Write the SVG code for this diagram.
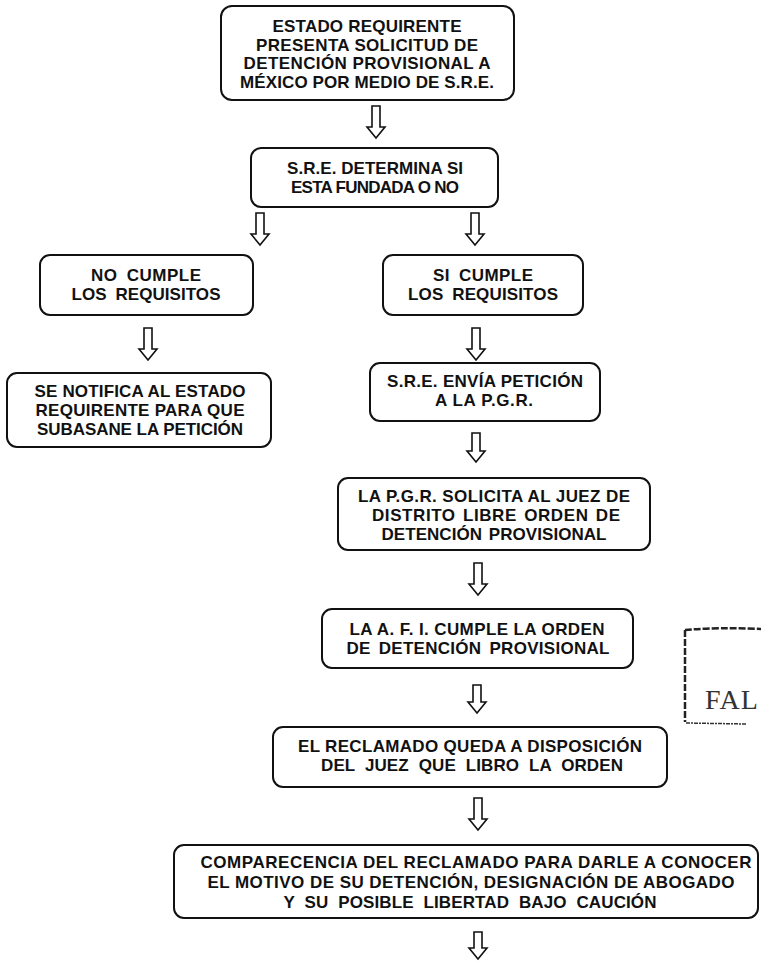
<svg xmlns="http://www.w3.org/2000/svg" width="761" height="961" viewBox="0 0 761 961">
<style>
.box{fill:#fff;stroke:#111;stroke-width:2}
.t{font-family:"Liberation Sans",Arial,sans-serif;font-size:17px;font-weight:bold;fill:#111;text-anchor:middle}
.arr{fill:#fff;stroke:#111;stroke-width:1.6;stroke-linejoin:miter}
.stamp{fill:none;stroke:#222;stroke-width:2.5;stroke-dasharray:7 2}
</style>
<rect width="761" height="961" fill="#fff"/>
<g id="connectors">
<path class="arr" d="M372,106 H380 V127 H385 L376,138 L367,127 H372 Z"/>
<path class="arr" d="M256,213 H264 V234 H269 L260,245 L251,234 H256 Z"/>
<path class="arr" d="M471,213 H479 V234 H484 L475,245 L466,234 H471 Z"/>
<path class="arr" d="M144,328 H152 V349 H157 L148,360 L139,349 H144 Z"/>
<path class="arr" d="M472,328 H480 V349 H485 L476,360 L467,349 H472 Z"/>
<path class="arr" d="M472,433 H480 V451 H485 L476,462 L467,451 H472 Z"/>
<path class="arr" d="M474,563 H482 V584 H487 L478,595 L469,584 H474 Z"/>
<path class="arr" d="M473,685 H481 V702 H486 L477,713 L468,702 H473 Z"/>
<path class="arr" d="M474,798 H482 V819 H487 L478,830 L469,819 H474 Z"/>
<path class="arr" d="M474,932 H482 V948 H487 L478,959 L469,948 H474 Z"/>
</g>
<g id="n1">
<rect class="box" x="221" y="6" width="293" height="94" rx="11"/>
<text class="t" x="367" y="32" textLength="189" lengthAdjust="spacing">ESTADO REQUIRENTE</text>
<text class="t" x="367" y="50.5" textLength="222" lengthAdjust="spacing">PRESENTA SOLICITUD DE</text>
<text class="t" x="367" y="69" textLength="247" lengthAdjust="spacing">DETENCIÓN PROVISIONAL A</text>
<text class="t" x="367" y="87.5" textLength="254" lengthAdjust="spacing">MÉXICO POR MEDIO DE S.R.E.</text>
</g>
<g id="n2">
<rect class="box" x="251" y="148" width="247" height="59" rx="10"/>
<text class="t" x="375" y="173.5" textLength="176" lengthAdjust="spacing">S.R.E. DETERMINA SI</text>
<text class="t" x="375" y="192.5" textLength="168" lengthAdjust="spacing">ESTA FUNDADA O NO</text>
</g>
<g id="n3">
<rect class="box" x="40" y="255" width="213" height="60" rx="10"/>
<text class="t" x="146" y="280.5" textLength="110" lengthAdjust="spacing" word-spacing="4">NO CUMPLE</text>
<text class="t" x="146" y="299.5" textLength="149" lengthAdjust="spacing" word-spacing="4">LOS REQUISITOS</text>
</g>
<g id="n4">
<rect class="box" x="383" y="255" width="200" height="60" rx="10"/>
<text class="t" x="483" y="280.5" textLength="100" lengthAdjust="spacing" word-spacing="4">SI CUMPLE</text>
<text class="t" x="483" y="299.5" textLength="150" lengthAdjust="spacing" word-spacing="4">LOS REQUISITOS</text>
</g>
<g id="n5">
<rect class="box" x="7" y="373" width="264" height="74" rx="10"/>
<text class="t" x="140" y="397" textLength="211" lengthAdjust="spacing">SE NOTIFICA AL ESTADO</text>
<text class="t" x="140" y="416" textLength="209" lengthAdjust="spacing">REQUIRENTE PARA QUE</text>
<text class="t" x="140" y="435" textLength="206" lengthAdjust="spacing">SUBASANE LA PETICIÓN</text>
</g>
<g id="n6">
<rect class="box" x="370" y="363" width="230" height="58" rx="10"/>
<text class="t" x="485" y="387" textLength="196" lengthAdjust="spacing">S.R.E. ENVÍA PETICIÓN</text>
<text class="t" x="484" y="406" textLength="98" lengthAdjust="spacing">A LA P.G.R.</text>
</g>
<g id="n7">
<rect class="box" x="338" y="478" width="312" height="72" rx="10"/>
<text class="t" x="494" y="501.5" textLength="272" lengthAdjust="spacing">LA P.G.R. SOLICITA AL JUEZ DE</text>
<text class="t" x="496" y="520.5" textLength="248" lengthAdjust="spacing" word-spacing="2">DISTRITO LIBRE ORDEN DE</text>
<text class="t" x="494" y="539.5" textLength="225" lengthAdjust="spacing" word-spacing="2">DETENCIÓN PROVISIONAL</text>
</g>
<g id="n8">
<rect class="box" x="322" y="609" width="311" height="59" rx="10"/>
<text class="t" x="477" y="634.5" textLength="255" lengthAdjust="spacing">LA A. F. I. CUMPLE LA ORDEN</text>
<text class="t" x="478" y="653.5" textLength="263" lengthAdjust="spacing" word-spacing="3">DE DETENCIÓN PROVISIONAL</text>
</g>
<g id="n9">
<rect class="box" x="273" y="727" width="394" height="60" rx="10"/>
<text class="t" x="470" y="751.5" textLength="344" lengthAdjust="spacing">EL RECLAMADO QUEDA A DISPOSICIÓN</text>
<text class="t" x="472" y="770.5" textLength="302" lengthAdjust="spacing" word-spacing="5">DEL JUEZ QUE LIBRO LA ORDEN</text>
</g>
<g id="n10">
<rect class="box" x="174" y="845" width="584" height="73" rx="10"/>
<text class="t" x="476" y="867.5" textLength="551" lengthAdjust="spacing">COMPARECENCIA DEL RECLAMADO PARA DARLE A CONOCER</text>
<text class="t" x="471" y="887.5" textLength="527" lengthAdjust="spacing">EL MOTIVO DE SU DETENCIÓN, DESIGNACIÓN DE ABOGADO</text>
<text class="t" x="470" y="907.5" textLength="373" lengthAdjust="spacing" word-spacing="5">Y SU POSIBLE LIBERTAD BAJO CAUCIÓN</text>
</g>
<g id="stamp">
<path class="stamp" d="M685,630 Q720,627 761,629"/>
<path class="stamp" d="M685,630 L685,722"/>
<path d="M686,723 L746,724" fill="none" stroke="#333" stroke-width="1.5" stroke-dasharray="4 1 2 1"/>
<text x="705" y="709" font-family="'Liberation Serif','Times New Roman',serif" font-size="28" fill="#333" letter-spacing="1">FAL</text>
</g>
</svg>
